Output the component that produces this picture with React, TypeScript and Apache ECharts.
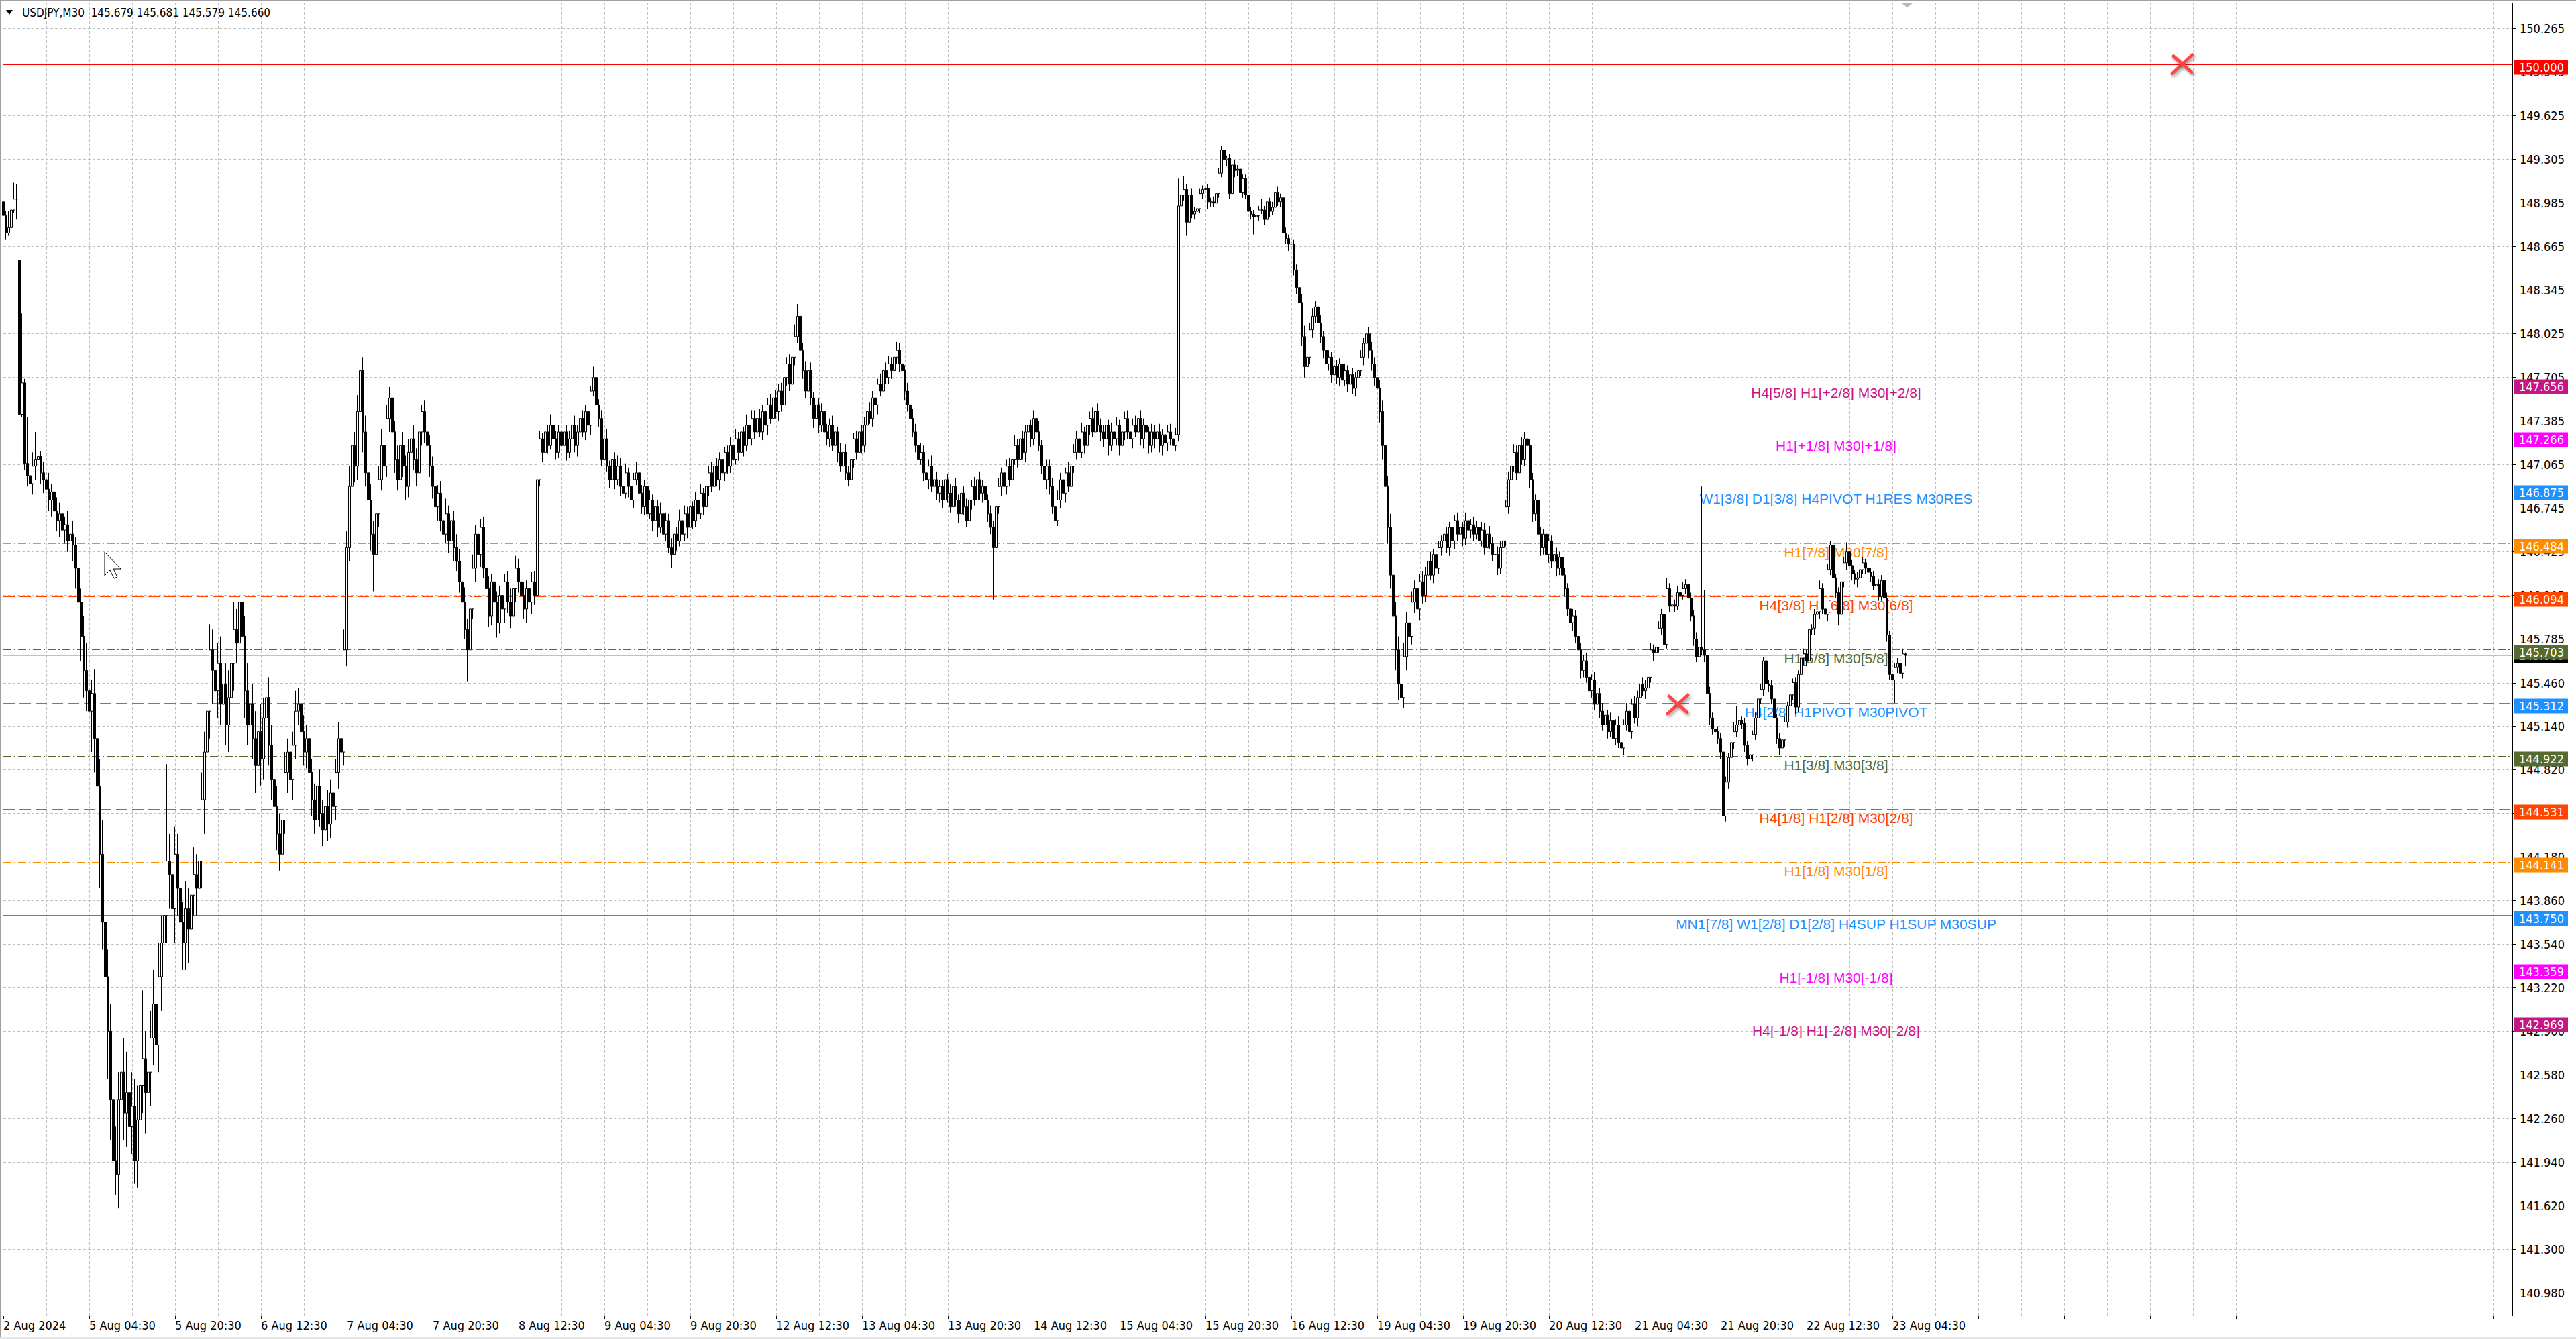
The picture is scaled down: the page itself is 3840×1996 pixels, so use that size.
import React, { useEffect, useRef } from 'react';
import * as echarts from 'echarts';

// ---------------- data ----------------
const firstOpen = 148.99;
const openGaps: Record<number, number> = { 6: 148.56 };

const closes = [
  148.89,148.76,148.80,148.93,149.01,149.01,147.43,147.66,147.07,146.98,
  146.92,147.05,147.10,147.12,147.00,146.95,146.88,146.80,146.86,146.72,
  146.65,146.70,146.58,146.62,146.50,146.55,146.47,146.30,146.05,145.80,
  145.55,145.40,145.25,145.38,145.05,144.70,144.20,143.70,143.30,142.90,
  142.40,141.95,141.85,142.40,142.60,142.30,142.45,142.20,142.35,141.95,
  142.25,142.50,142.70,142.45,142.60,142.85,143.10,142.80,143.30,143.55,
  143.75,144.15,144.05,143.80,144.20,143.95,143.70,143.55,143.80,143.65,
  143.90,144.05,143.95,144.15,144.60,144.95,145.25,145.70,145.55,145.40,
  145.60,145.30,145.45,145.15,145.35,145.60,145.85,145.75,146.05,145.80,
  145.40,145.15,145.30,145.05,144.85,145.10,144.90,145.20,145.35,145.00,
  144.75,144.55,144.35,144.20,144.45,144.80,144.95,144.75,145.00,145.25,
  145.30,145.10,144.95,145.05,144.80,144.60,144.45,144.70,144.50,144.38,
  144.55,144.42,144.65,144.55,144.80,145.05,144.95,145.70,146.45,146.90,
  147.20,147.05,147.45,147.75,147.30,147.00,146.80,146.55,146.40,146.70,
  146.95,147.20,147.05,147.40,147.55,147.30,147.10,146.95,147.20,147.05,
  146.90,147.15,147.25,147.10,147.00,147.30,147.45,147.30,147.20,147.05,
  146.90,146.75,146.85,146.65,146.55,146.70,146.50,146.65,146.45,146.35,
  146.20,146.05,145.85,145.70,146.00,146.30,146.55,146.40,146.60,146.30,
  146.15,145.95,146.20,146.05,145.90,146.10,146.00,146.20,146.05,145.95,
  146.15,146.30,146.20,146.10,146.00,146.15,146.05,146.20,146.10,146.95,
  147.25,147.15,147.30,147.20,147.35,147.25,147.15,147.30,147.20,147.30,
  147.15,147.25,147.35,147.20,147.30,147.40,147.30,147.45,147.35,147.60,
  147.70,147.50,147.40,147.10,147.25,147.05,146.95,147.10,146.95,147.05,
  146.90,146.85,147.00,146.90,146.80,146.95,147.00,146.85,146.75,146.90,
  146.70,146.80,146.65,146.75,146.60,146.70,146.55,146.65,146.45,146.40,
  146.55,146.50,146.65,146.55,146.70,146.60,146.75,146.65,146.80,146.70,
  146.85,146.75,146.90,147.00,146.90,147.05,146.95,147.10,147.00,147.15,
  147.05,147.20,147.10,147.25,147.15,147.30,147.20,147.35,147.25,147.40,
  147.30,147.40,147.30,147.45,147.35,147.50,147.40,147.55,147.45,147.60,
  147.50,147.70,147.80,147.65,147.85,148.00,148.15,147.90,147.75,147.60,
  147.75,147.55,147.40,147.50,147.35,147.45,147.30,147.25,147.35,147.20,
  147.30,147.15,147.05,147.15,147.00,146.95,147.10,147.25,147.15,147.30,
  147.20,147.35,147.45,147.40,147.55,147.50,147.65,147.60,147.75,147.70,
  147.80,147.75,147.85,147.90,147.80,147.75,147.60,147.50,147.40,147.30,
  147.20,147.10,147.15,147.00,146.95,147.05,146.90,146.95,146.85,146.90,
  146.80,146.95,146.85,146.75,146.90,146.80,146.70,146.85,146.75,146.65,
  146.80,146.90,146.80,146.95,146.85,146.90,146.80,146.70,146.60,146.45,
  146.75,146.90,147.00,146.90,147.05,146.95,147.10,147.20,147.10,147.25,
  147.15,147.30,147.35,147.25,147.40,147.30,147.20,147.05,146.95,147.05,
  146.90,146.75,146.65,146.80,146.95,146.85,147.00,146.90,147.05,147.15,
  147.25,147.15,147.30,147.20,147.35,147.40,147.30,147.45,147.35,147.30,
  147.25,147.35,147.20,147.30,147.25,147.35,147.20,147.30,147.40,147.30,
  147.25,147.35,147.30,147.40,147.25,147.35,147.30,147.20,147.30,147.25,
  147.30,147.20,147.28,147.22,147.30,147.25,147.20,147.28,148.96,149.04,
  149.08,148.84,149.04,148.90,148.92,148.94,149.05,149.08,149.09,148.99,
  148.99,148.98,149.05,149.20,149.37,149.30,149.31,149.05,149.26,149.22,
  149.23,149.06,149.16,149.04,148.92,148.90,148.88,148.89,148.93,148.93,
  148.86,148.99,148.92,148.95,149.06,148.99,149.02,148.76,148.72,148.68,
  148.68,148.49,148.36,148.25,148.00,147.78,147.85,148.05,148.15,148.22,
  148.10,148.00,147.90,147.80,147.85,147.72,147.78,147.70,147.80,147.68,
  147.75,147.65,147.72,147.62,147.70,147.75,147.85,147.95,148.02,147.90,
  147.80,147.70,147.62,147.45,147.20,146.90,146.60,146.25,145.95,145.70,
  145.45,145.35,145.65,145.90,145.80,146.05,146.15,146.00,146.20,146.10,
  146.25,146.35,146.25,146.40,146.30,146.45,146.50,146.55,146.45,146.60,
  146.50,146.65,146.55,146.60,146.52,146.65,146.58,146.62,146.55,146.60,
  146.50,146.58,146.45,146.55,146.48,146.40,146.40,146.30,146.45,146.50,
  146.75,146.95,147.05,147.15,147.00,147.20,147.10,147.25,147.20,146.95,
  146.70,146.80,146.55,146.45,146.55,146.40,146.50,146.35,146.40,146.30,
  146.38,146.25,146.15,146.00,145.90,145.95,145.80,145.70,145.55,145.62,
  145.50,145.40,145.48,145.30,145.38,145.25,145.15,145.22,145.10,145.18,
  145.05,145.15,145.02,144.98,145.15,145.25,145.10,145.30,145.20,145.35,
  145.45,145.40,145.42,145.50,145.70,145.68,145.72,145.86,145.96,145.74,
  146.15,146.02,146.03,146.02,146.12,146.10,146.15,146.18,146.08,145.95,
  145.78,145.65,145.72,145.70,145.66,145.38,145.20,145.12,145.10,145.05,
  144.95,144.48,144.73,144.91,145.02,145.10,145.15,145.18,145.16,145.00,
  144.90,144.93,145.08,145.20,145.34,145.41,145.62,145.45,145.44,145.34,
  145.20,145.05,144.98,145.04,145.17,145.29,145.37,145.46,145.28,145.52,
  145.64,145.67,145.62,145.85,145.86,145.96,145.98,146.15,146.00,145.96,
  146.29,146.47,146.23,146.12,145.96,146.20,146.34,146.42,146.32,146.26,
  146.22,146.23,146.29,146.34,146.30,146.27,146.24,146.17,146.18,146.09,
  146.21,146.08,145.81,145.52,145.48,145.57,145.60,145.53,145.67,145.66,
];

// upper / lower wick length in 0.01 price units
const wickUp = [
  5,3,12,6,12,11,0,51,3,34,
  8,10,20,34,4,8,10,12,6,10,
  10,8,12,6,10,8,10,6,8,10,
  15,20,12,10,18,15,20,25,15,20,
  20,15,25,20,75,25,30,20,25,20,
  25,20,50,20,25,20,25,20,25,20,
  20,71,20,15,20,15,20,15,20,15,
  15,20,15,15,20,15,20,19,15,20,
  15,20,15,15,20,15,20,15,20,15,
  15,20,15,15,20,15,20,15,25,15,
  15,10,15,15,10,15,10,15,10,15,
  12,10,12,10,15,10,12,10,12,10,
  10,12,10,12,10,12,10,15,12,15,
  12,10,12,15,10,12,10,12,10,12,
  10,12,10,10,8,10,8,10,8,10,
  8,10,8,10,8,5,5,8,10,8,
  7,10,6,9,8,11,6,9,7,10,
  9,7,11,8,6,10,7,9,6,8,
  7,9,6,10,8,7,9,6,8,10,
  6,9,7,8,10,6,9,7,8,12,
  6,4,7,5,8,3,6,5,4,7,
  5,6,4,7,5,3,6,5,8,4,
  8,5,4,6,5,7,4,6,5,8,
  6,5,7,4,6,5,8,4,6,5,
  5,7,4,6,5,8,4,6,5,7,
  6,5,8,4,6,5,7,4,6,5,
  7,4,6,5,8,4,6,5,7,4,
  5,6,4,7,5,6,4,8,5,6,
  6,4,7,5,6,5,8,4,6,5,
  6,8,5,7,9,9,9,6,5,7,
  5,6,4,7,5,6,4,6,5,7,
  6,4,7,5,6,5,8,4,6,5,
  5,6,4,7,5,6,4,8,5,6,
  6,5,7,6,5,6,4,6,5,7,
  6,4,7,5,6,5,8,4,6,5,
  5,6,4,7,5,6,4,8,5,6,
  6,5,7,4,6,5,8,4,6,5,
  5,6,4,7,5,6,4,8,5,6,
  6,5,7,4,6,5,8,4,6,5,
  5,6,4,7,5,6,4,8,5,6,
  6,5,7,4,6,5,8,4,6,5,
  5,6,4,7,5,6,4,8,5,6,
  6,5,7,4,6,5,8,4,6,5,
  5,6,4,7,5,6,4,5,20,29,
  10,4,3,5,3,3,4,3,10,3,
  3,4,3,4,3,4,2,3,3,4,
  3,4,3,3,4,3,3,4,3,8,
  3,4,3,4,3,4,3,3,4,3,
  4,3,4,3,6,8,6,5,6,4,
  5,6,4,6,5,4,6,5,4,6,
  5,4,6,5,4,6,5,4,6,5,
  6,5,4,6,8,10,8,10,12,10,
  10,12,10,8,10,8,6,8,6,8,
  6,5,7,4,6,5,4,6,5,4,
  5,4,6,5,4,6,5,4,6,5,
  4,6,5,4,6,5,4,6,5,4,
  5,6,4,6,5,4,6,5,8,5,
  5,4,6,5,4,6,5,4,6,5,
  4,6,5,4,6,5,4,6,5,4,
  6,5,4,6,5,4,6,5,4,6,
  5,4,6,5,4,6,5,4,6,5,
  4,5,6,4,5,4,6,5,4,9,
  8,4,3,4,5,4,5,4,5,4,
  4,5,4,118,44,4,5,4,5,4,
  4,3,4,3,4,7,14,4,3,4,
  3,4,3,4,3,4,3,4,3,4,
  4,3,4,3,4,3,4,3,4,3,
  3,4,3,4,3,4,3,6,4,3,
  4,3,4,3,4,3,4,7,3,4,
  3,4,3,4,3,4,3,4,3,4,
  4,13,4,3,4,3,4,3,4,1,
];

const wickDn = [
  3,5,2,3,2,15,3,2,5,8,
  15,8,10,6,8,10,12,8,12,8,
  8,12,8,10,8,10,12,15,20,18,
  20,15,25,30,25,30,25,20,30,35,
  30,15,15,25,30,20,25,30,20,17,
  20,25,20,30,20,25,20,30,20,25,
  25,20,25,20,25,20,25,20,20,25,
  20,15,20,15,20,25,20,20,25,20,
  20,15,20,15,20,15,20,15,15,20,
  20,15,20,15,20,15,20,15,20,15,
  15,15,12,12,15,10,15,10,15,10,
  10,12,10,12,10,12,10,12,10,12,
  12,12,10,12,10,12,10,10,12,10,
  10,12,10,12,15,10,15,12,27,10,
  10,8,10,8,10,8,10,8,10,8,
  10,8,10,8,10,8,10,8,10,8,
  9,7,10,8,11,7,9,8,10,7,
  8,10,7,23,9,7,10,8,9,7,
  10,8,7,9,11,8,7,10,8,9,
  7,10,8,9,7,10,8,9,7,9,
  5,7,4,6,3,8,5,4,7,5,
  6,4,7,5,8,5,4,6,3,7,
  4,7,6,5,8,4,6,5,7,4,
  7,5,4,8,5,6,4,7,5,6,
  6,4,8,5,7,4,6,5,4,10,
  5,7,4,6,5,8,4,6,5,7,
  4,6,5,7,4,6,5,8,4,6,
  6,5,7,4,6,5,8,4,6,5,
  5,7,4,6,5,7,4,6,5,7,
  5,4,6,5,4,6,5,7,6,5,
  6,5,7,4,6,5,7,5,6,4,
  5,7,4,6,5,5,4,6,5,7,
  6,5,7,4,6,5,7,4,6,5,
  5,6,4,5,6,5,7,5,6,4,
  5,7,4,6,5,7,4,6,5,7,
  6,5,7,4,6,5,7,4,6,5,
  5,7,4,6,5,7,4,6,5,38,
  6,5,7,4,6,5,7,4,6,5,
  5,7,4,6,5,7,4,6,5,7,
  6,5,10,4,6,5,7,4,6,5,
  5,7,4,6,5,7,4,6,5,7,
  6,5,7,4,6,5,7,4,6,5,
  5,7,4,6,5,7,4,6,5,7,
  6,5,7,4,6,5,7,4,5,9,
  4,10,6,3,4,3,3,4,3,5,
  4,3,4,3,3,4,5,4,3,5,
  4,3,4,3,3,4,13,3,4,3,
  4,3,4,3,4,3,4,5,4,5,
  5,4,5,8,7,8,6,5,6,5,
  4,5,6,4,5,6,4,5,6,4,
  4,6,5,4,6,5,4,6,5,6,
  5,6,5,8,10,8,12,10,12,15,
  12,15,8,10,8,6,8,6,8,6,
  5,6,4,6,5,4,6,5,4,6,
  4,6,5,4,6,5,4,6,5,4,
  6,4,5,6,4,5,6,5,4,55,
  4,5,6,4,5,6,4,5,4,6,
  6,5,4,6,5,4,6,5,4,6,
  5,4,6,5,4,6,5,4,6,5,
  4,6,5,4,6,5,4,6,5,4,
  6,5,4,3,5,4,6,5,4,6,
  5,4,6,5,4,6,5,4,5,4,
  3,4,3,4,3,4,3,4,3,4,
  5,4,5,4,5,4,5,4,5,4,
  5,6,4,5,4,5,4,5,4,5,
  5,4,5,4,5,4,5,4,5,4,
  5,4,5,4,5,4,5,4,5,4,
  4,5,4,5,4,5,4,5,4,5,
  5,4,5,4,8,5,4,5,4,5,
  4,6,4,3,4,3,4,3,4,3,
  3,4,5,4,5,17,4,5,4,8,
];

const xLabels = [
  '2 Aug 2024', '5 Aug 04:30', '5 Aug 20:30', '6 Aug 12:30', '7 Aug 04:30', '7 Aug 20:30',
  '8 Aug 12:30', '9 Aug 04:30', '9 Aug 20:30', '12 Aug 12:30', '13 Aug 04:30', '13 Aug 20:30',
  '14 Aug 12:30', '15 Aug 04:30', '15 Aug 20:30', '16 Aug 12:30', '19 Aug 04:30', '19 Aug 20:30',
  '20 Aug 12:30', '21 Aug 04:30', '21 Aug 20:30', '22 Aug 12:30', '23 Aug 04:30',
];

const yTicks = [
  150.265, 149.945, 149.625, 149.305, 148.985, 148.665, 148.345, 148.025, 147.705, 147.385,
  147.065, 146.745, 146.425, 146.105, 145.785, 145.460, 145.140, 144.820, 144.500, 144.180,
  143.860, 143.540, 143.220, 142.900, 142.580, 142.260, 141.940, 141.620, 141.300, 140.980,
];

const levelPrices = [150.000, 147.656, 147.266, 146.875, 146.484, 146.094, 145.703, 145.312, 144.922, 144.531, 144.141, 143.750, 143.359, 142.969];
const levelTexts = [
  '',
  'H4[5/8] H1[+2/8] M30[+2/8]',
  'H1[+1/8] M30[+1/8]',
  'W1[3/8] D1[3/8] H4PIVOT H1RES M30RES',
  'H1[7/8] M30[7/8]',
  'H4[3/8] H1[6/8] M30[6/8]',
  'H1[5/8] M30[5/8]',
  'H4[2/8] H1PIVOT M30PIVOT',
  'H1[3/8] M30[3/8]',
  'H4[1/8] H1[2/8] M30[2/8]',
  'H1[1/8] M30[1/8]',
  'MN1[7/8] W1[2/8] D1[2/8] H4SUP H1SUP M30SUP',
  'H1[-1/8] M30[-1/8]',
  'H4[-1/8] H1[-2/8] M30[-2/8]',
];
const bidPrice = 145.66;
const headerText = 'USDJPY,M30  145.679 145.681 145.579 145.660';
const markerPoints = [[812, 150.0], [624, 145.3]];

// ---------------- styles ----------------
const levelColors = ['#FF0000', '#C71585', '#FF00FF', '#1E90FF', '#FF8C00', '#FF4500', '#556B2F', '#1E90FF', '#556B2F', '#FF4500', '#FF8C00', '#1E90FF', '#FF00FF', '#C71585'];
const levelDash = ['solid', 'dash', 'dashdot', 'solid', 'dashdot', 'dash', 'dashdot', 'dash', 'dashdot', 'dash', 'dashdot', 'solid', 'dashdot', 'dash'];
const levelWidths = [1, 1, 1, 1, 1, 1, 1, 1, 1, 1, 1, 2, 1, 1];

const TOTAL_SLOTS = 936;
const LABEL_STEP = 32;
const GRID_STEP = 16;
const LEVEL_LABEL_SLOT = 683;
const AXIS_FONT = '"DejaVu Sans Condensed", "DejaVu Sans", sans-serif';
const LEVEL_FONT = '"Liberation Sans", Arial, sans-serif';
const GRID_COLOR = '#c0c0c0';

function dashFor(kind: string): number[] | undefined {
  if (kind === 'dash') return [17, 7];
  if (kind === 'dashdot') return [12, 4, 2, 4];
  return undefined;
}

function buildCandles() {
  const out: number[][] = [];
  for (let i = 0; i < closes.length; i++) {
    const o = i === 0 ? firstOpen : (openGaps[i] !== undefined ? openGaps[i] : closes[i - 1]);
    const c = closes[i];
    const h = Math.max(o, c) + (wickUp[i] || 0) / 100;
    const l = Math.min(o, c) - (wickDn[i] || 0) / 100;
    out.push([o, c, +l.toFixed(3), +h.toFixed(3)]);
  }
  return out;
}

function textStyle(extra: any) {
  return Object.assign({}, extra, {
    textAlign: extra.align,
    textVerticalAlign: extra.verticalAlign,
  });
}

export default function App() {
  const ref = useRef<HTMLDivElement>(null);

  useEffect(() => {
    if (!ref.current) return;
    const chart = echarts.init(ref.current, undefined, { renderer: 'svg' });
    const slots = Array.from({ length: TOTAL_SLOTS }, (_, i) => String(i));
    const candles = buildCandles();

    const option: any = {
      animation: false,
      backgroundColor: '#ffffff',
      grid: { left: 5, right: 95, top: 4, bottom: 35, containLabel: false },
      xAxis: {
        type: 'category',
        data: slots,
        boundaryGap: false,
        axisLine: { show: false },
        axisTick: {
          show: true,
          interval: (i: number) => i % LABEL_STEP === 0,
          length: 5,
          lineStyle: { color: '#000', width: 1 },
        },
        axisLabel: {
          interval: (i: number) => i % LABEL_STEP === 0,
          formatter: (v: string) => {
            const n = Number(v);
            return n % LABEL_STEP === 0 ? (xLabels[n / LABEL_STEP] || '') : '';
          },
          align: 'left',
          margin: 5,
          color: '#000',
          fontSize: 18,
          fontFamily: AXIS_FONT,
        },
        splitLine: {
          show: true,
          interval: (i: number) => i > 0 && i % GRID_STEP === 0,
          lineStyle: { color: GRID_COLOR, width: 1, type: [4, 3] },
        },
      },
      yAxis: {
        type: 'value',
        position: 'right',
        min: 140.813,
        max: 150.452,
        axisLine: { show: false },
        axisTick: { show: false },
        axisLabel: { show: false },
        splitLine: { show: false },
      },
      series: [
        {
          // horizontal grid + price scale
          type: 'custom',
          z: 1,
          silent: true,
          clip: false,
          data: yTicks.map((v) => [0, v]),
          renderItem: (params: any, api: any) => {
            const cs = params.coordSys;
            const v = api.value(1);
            const y = Math.round(api.coord([0, v])[1]) + 0.5;
            const right = cs.x + cs.width;
            return {
              type: 'group',
              children: [
                { type: 'line', shape: { x1: cs.x, y1: y, x2: right, y2: y }, style: { stroke: GRID_COLOR, lineWidth: 1, lineDash: [4, 3] } },
                { type: 'line', shape: { x1: right, y1: y, x2: right + 5, y2: y }, style: { stroke: '#000', lineWidth: 1 } },
                {
                  type: 'text', x: right + 11, y: y,
                  style: textStyle({ text: Number(v).toFixed(3), fill: '#000', fontSize: 18, fontFamily: AXIS_FONT, align: 'left', verticalAlign: 'middle' }),
                },
              ],
            };
          },
        },
        {
          // bid line
          type: 'custom',
          z: 2,
          silent: true,
          clip: false,
          data: [[0, bidPrice]],
          renderItem: (params: any, api: any) => {
            const cs = params.coordSys;
            const v = api.value(1);
            const y = Math.round(api.coord([0, v])[1]) + 0.5;
            const right = cs.x + cs.width;
            return {
              type: 'group',
              children: [
                { type: 'line', shape: { x1: cs.x, y1: y, x2: right, y2: y }, style: { stroke: '#c0c0c0', lineWidth: 1 } },
                { type: 'rect', shape: { x: right + 3, y: y - 11, width: 80, height: 22 }, style: { fill: '#000' } },
                {
                  type: 'text', x: right + 10, y: y,
                  style: textStyle({ text: Number(v).toFixed(3), fill: '#fff', fontSize: 18, fontFamily: AXIS_FONT, align: 'left', verticalAlign: 'middle' }),
                },
              ],
            };
          },
        },
        {
          // Murrey math levels
          type: 'custom',
          z: 2,
          silent: true,
          clip: false,
          data: levelPrices.map((p, i) => [LEVEL_LABEL_SLOT, p, i]),
          renderItem: (params: any, api: any) => {
            const cs = params.coordSys;
            const i = api.value(2);
            const price = api.value(1);
            const pt = api.coord([api.value(0), price]);
            const lw = levelWidths[i];
            const y = lw % 2 ? Math.round(pt[1]) + 0.5 : Math.round(pt[1]);
            const right = cs.x + cs.width;
            const color = levelColors[i];
            const children: any[] = [
              { type: 'line', shape: { x1: cs.x, y1: y, x2: right, y2: y }, style: { stroke: color, lineWidth: lw, lineDash: dashFor(levelDash[i]) } },
            ];
            if (levelTexts[i]) {
              children.push({
                type: 'text', x: pt[0], y: y + 2,
                style: textStyle({ text: levelTexts[i], fill: color, fontSize: 21, fontFamily: LEVEL_FONT, align: 'center', verticalAlign: 'top' }),
              });
            }
            children.push({ type: 'rect', shape: { x: right + 3, y: y + 4 - 11, width: 80, height: 22 }, style: { fill: color } });
            children.push({
              type: 'text', x: right + 10, y: y + 4,
              style: textStyle({ text: Number(price).toFixed(3), fill: '#fff', fontSize: 18, fontFamily: AXIS_FONT, align: 'left', verticalAlign: 'middle' }),
            });
            return { type: 'group', children };
          },
        },
        {
          type: 'candlestick',
          z: 3,
          silent: true,
          large: false,
          barWidth: 3,
          data: candles,
          itemStyle: {
            color: '#ffffff',
            color0: '#000000',
            borderColor: '#000000',
            borderColor0: '#000000',
            borderWidth: 1,
          },
        },
        {
          // red X markers
          type: 'custom',
          z: 5,
          silent: true,
          clip: false,
          data: markerPoints,
          renderItem: (params: any, api: any) => {
            const p = api.coord([api.value(0), api.value(1)]);
            const st = {
              stroke: '#ff4646', lineWidth: 5, lineCap: 'round',
              shadowBlur: 4, shadowColor: 'rgba(0,0,0,0.35)', shadowOffsetX: 2, shadowOffsetY: 3,
            };
            return {
              type: 'group',
              children: [
                { type: 'line', shape: { x1: p[0] - 15, y1: p[1] + 14, x2: p[0] + 15, y2: p[1] - 14 }, style: st },
                { type: 'line', shape: { x1: p[0] - 13, y1: p[1] - 12, x2: p[0] + 14, y2: p[1] + 12 }, style: st },
              ],
            };
          },
        },
      ],
      graphic: [
        { type: 'rect', z: 10, silent: true, shape: { x: 4.5, y: 4.5, width: 3741, height: 1957 }, style: { fill: 'none', stroke: '#000', lineWidth: 1 } },
        { type: 'rect', z: 10, silent: true, shape: { x: 0, y: 0, width: 3840, height: 2 }, style: { fill: '#a0a0a0' } },
        { type: 'rect', z: 10, silent: true, shape: { x: 0, y: 0, width: 2, height: 1996 }, style: { fill: '#a0a0a0' } },
        { type: 'rect', z: 10, silent: true, shape: { x: 0, y: 1993, width: 3840, height: 3 }, style: { fill: '#e6e6e6' } },
        { type: 'polygon', z: 10, silent: true, shape: { points: [[9, 15], [19, 15], [14, 22]] }, style: { fill: '#000' } },
        {
          type: 'text', z: 10, silent: true, x: 33, y: 19,
          style: textStyle({ text: headerText, fill: '#000', fontSize: 17, fontFamily: AXIS_FONT, align: 'left', verticalAlign: 'middle' }),
        },
        { type: 'polygon', z: 10, silent: true, shape: { points: [[2835, 5], [2851, 5], [2843, 11]] }, style: { fill: '#b8b8b8' } },
        {
          type: 'polygon', z: 10, silent: true,
          shape: { points: [[156, 823], [156, 858], [164, 850], [170, 862], [175, 860], [169, 848], [180, 848]] },
          style: { fill: '#ffffff', stroke: '#000', lineWidth: 1 },
        },
      ],
    };

    chart.setOption(option);
    return () => chart.dispose();
  }, []);

  return (
    <div
      ref={ref}
      style={{ position: 'fixed', left: 0, top: 0, width: 3840, height: 1996, background: '#fff' }}
    />
  );
}
